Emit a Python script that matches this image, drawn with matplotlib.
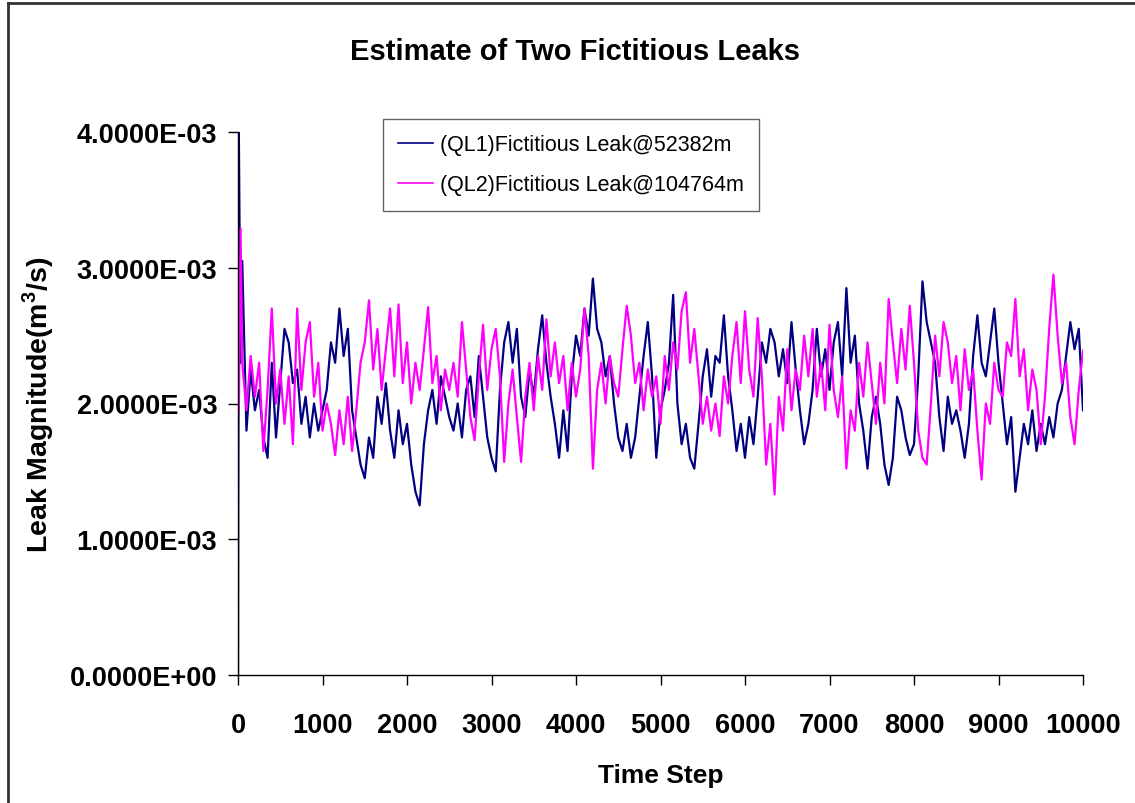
import matplotlib
matplotlib.use("Agg")
import matplotlib.pyplot as plt
from matplotlib.lines import Line2D
from matplotlib.ticker import FuncFormatter

# time grid: a few early samples, then every 50 steps
time_steps = [0, 10, 30] + list(range(50, 10001, 50))

# leak magnitudes in units of 1e-3 m^3/s
ql1 = [
    0.0, 4.0, 2.30, 3.05,
    1.80, 2.25, 1.95, 2.10, 1.75, 1.60, 2.30, 1.75, 2.15,
    2.55, 2.45, 2.15, 2.25, 1.85, 2.05, 1.75, 2.00, 1.80, 1.95,
    2.10, 2.45, 2.30, 2.70, 2.35, 2.55, 1.95, 1.75, 1.55, 1.45,
    1.75, 1.60, 2.05, 1.85, 2.15, 1.80, 1.60, 1.95, 1.70, 1.85,
    1.55, 1.35, 1.25, 1.70, 1.95, 2.10, 1.85, 2.20, 2.05, 1.90,
    1.80, 2.00, 1.75, 2.10, 2.20, 1.90, 2.35, 2.05, 1.75, 1.60,
    1.50, 2.10, 2.45, 2.60, 2.30, 2.55, 2.05, 1.90, 2.25, 2.05,
    2.40, 2.65, 2.30, 2.05, 1.85, 1.60, 1.95, 1.65, 2.20, 2.50,
    2.35, 2.70, 2.50, 2.92, 2.55, 2.45, 2.20, 2.35, 2.00, 1.75,
    1.65, 1.85, 1.60, 1.75, 2.05, 2.35, 2.60, 2.20, 1.60, 1.95,
    2.10, 2.30, 2.80, 2.00, 1.70, 1.85, 1.60, 1.52, 1.85, 2.20,
    2.40, 2.05, 2.35, 2.30, 2.65, 2.20, 1.95, 1.65, 1.85, 1.60,
    1.90, 1.70, 2.05, 2.45, 2.30, 2.55, 2.45, 2.20, 2.40, 2.15,
    2.60, 2.25, 1.95, 1.70, 1.85, 2.10, 2.55, 2.20, 2.40, 2.10,
    2.45, 2.60, 2.20, 2.85, 2.30, 2.50, 2.00, 1.80, 1.52, 1.90,
    2.05, 1.85, 1.55, 1.40, 1.60, 2.05, 1.95, 1.75, 1.62, 1.70,
    2.20, 2.90, 2.60, 2.45, 2.30, 1.90, 1.65, 2.05, 1.85, 1.95,
    1.80, 1.60, 1.85, 2.35, 2.65, 2.30, 2.20, 2.45, 2.70, 2.30,
    2.00, 1.70, 1.90, 1.35, 1.60, 1.85, 1.70, 1.95, 1.65, 1.85,
    1.70, 1.90, 1.75, 2.00, 2.10, 2.35, 2.60, 2.40, 2.55, 1.95,
]

ql2 = [
    1.90, 1.95, 3.29, 2.30,
    1.95, 2.35, 2.05, 2.30, 1.65, 2.10, 2.70, 2.00, 2.25,
    1.85, 2.20, 1.70, 2.70, 2.10, 2.45, 2.60, 2.05, 2.30, 1.80,
    2.00, 1.85, 1.62, 1.95, 1.70, 2.05, 1.65, 1.95, 2.30, 2.45,
    2.76, 2.25, 2.55, 2.10, 2.40, 2.70, 2.20, 2.73, 2.15, 2.45,
    2.00, 2.30, 2.10, 2.40, 2.71, 2.15, 2.35, 1.95, 2.25, 2.10,
    2.30, 2.05, 2.60, 2.25, 1.90, 1.73, 2.20, 2.58, 2.10, 2.40,
    2.55, 2.20, 1.57, 2.00, 2.25, 1.90, 1.57, 2.05, 2.30, 1.95,
    2.35, 2.10, 2.62, 2.20, 2.45, 2.15, 2.35, 1.95, 2.30, 2.05,
    2.25, 2.70, 2.35, 1.52, 2.10, 2.30, 2.00, 2.35, 2.15, 2.05,
    2.40, 2.72, 2.50, 2.15, 2.30, 1.95, 2.25, 2.05, 2.20, 1.85,
    2.35, 2.10, 2.45, 2.25, 2.68, 2.82, 2.30, 2.55, 2.20, 1.85,
    2.05, 1.80, 2.00, 1.76, 2.20, 2.00, 2.35, 2.60, 2.15, 2.68,
    2.25, 2.05, 2.63, 2.20, 1.55, 1.85, 1.33, 2.05, 1.80, 2.40,
    1.95, 2.25, 2.10, 2.50, 2.20, 2.55, 2.05, 2.30, 1.95, 2.58,
    2.10, 1.90, 2.20, 1.52, 1.95, 1.80, 2.30, 2.05, 2.45, 2.15,
    1.85, 2.30, 2.00, 2.77, 2.45, 2.15, 2.55, 2.25, 2.72, 2.30,
    1.80, 1.60, 1.55, 2.00, 2.50, 2.20, 2.60, 2.45, 2.15, 2.35,
    1.95, 2.40, 2.10, 2.25, 1.80, 1.44, 2.00, 1.85, 2.30, 2.10,
    2.05, 2.45, 2.35, 2.77, 2.20, 2.40, 1.95, 2.25, 2.10, 1.70,
    2.05, 2.55, 2.95, 2.50, 2.15, 2.30, 1.90, 1.70, 2.10, 2.39,
]

labels = ["(QL1)Fictitious Leak@52382m", "(QL2)Fictitious Leak@104764m"]
x_ticks = list(range(0, 10001, 1000))
y_ticks = [0.0, 1e-3, 2e-3, 3e-3, 4e-3]

plt.rcParams['font.family'] = ['Liberation Sans', 'DejaVu Sans']
plt.rcParams['mathtext.fontset'] = 'custom'
plt.rcParams['mathtext.rm'] = 'Liberation Sans'
plt.rcParams['mathtext.bf'] = 'Liberation Sans:bold'

fig = plt.figure(figsize=(11.35, 8.04), dpi=100)
ax = fig.add_axes([238 / 1135, 1 - 676 / 804, (1083 - 238) / 1135, (676 - 133) / 804])

ax.plot(time_steps, [v * 1e-3 for v in ql1], color='#000080', linewidth=1.6, label=labels[0])
ax.plot(time_steps, [v * 1e-3 for v in ql2], color='#ff00ff', linewidth=1.6, label=labels[1])

ax.set_xlim(0, 10000)
ax.set_ylim(0, 4e-3)
ax.set_xticks(x_ticks)
ax.set_yticks(y_ticks)
ax.yaxis.set_major_formatter(FuncFormatter(lambda v, p: f"{v:.4E}"))

for side in ['top', 'right']:
    ax.spines[side].set_visible(False)
for side in ['left', 'bottom']:
    ax.spines[side].set_linewidth(1.0)
    ax.spines[side].set_color('black')

ax.tick_params(axis='both', direction='out', length=7, width=1, colors='black')
ax.tick_params(axis='x', pad=20)
ax.tick_params(axis='y', pad=8)
for lbl in ax.get_xticklabels() + ax.get_yticklabels():
    lbl.set_fontsize(19.5)
    lbl.set_fontweight('bold')

ax.set_xlabel("Time Step", fontsize=19, fontweight='bold', labelpad=18)
ax.set_ylabel(r"Leak Magnitude(m$^{\mathbf{3}}$/s)", fontsize=20.5, fontweight='bold', labelpad=10)
fig.text(575 / 1135, 1 - 52 / 804, "Estimate of Two Fictitious Leaks", ha='center', va='center',
         fontsize=21, fontweight='bold')

leg = ax.legend(loc='upper left', bbox_to_anchor=((383 - 238) / 845, 1 + 13 / 543),
                borderaxespad=0, fontsize=15.5, frameon=True, fancybox=False, handlelength=1.6,
                borderpad=0.7, labelspacing=0.9, handletextpad=0.35)
leg.get_frame().set_edgecolor('#404040')
leg.get_frame().set_linewidth(1.0)
for h in leg.get_lines():
    h.set_linewidth(1.2)

# outer chart border (left and top visible)
fig.add_artist(Line2D([8 / 1135, 8 / 1135], [0, 1 - 4 / 804], transform=fig.transFigure,
                      color='#333333', linewidth=2))
fig.add_artist(Line2D([8 / 1135, 1], [1 - 4 / 804, 1 - 4 / 804], transform=fig.transFigure,
                      color='#333333', linewidth=2))

fig.savefig("out.png", dpi=100)
